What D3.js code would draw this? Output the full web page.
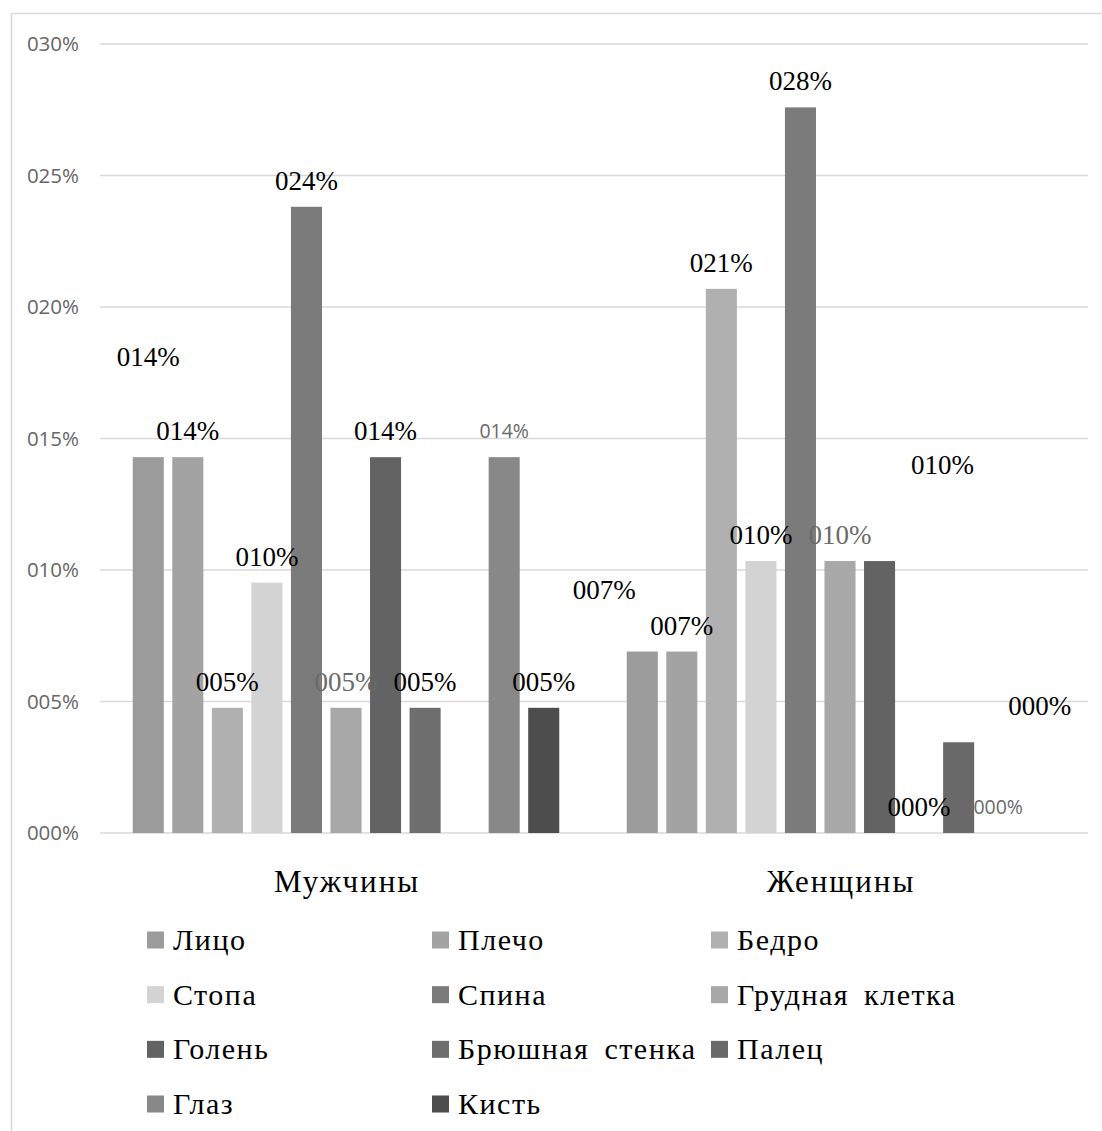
<!DOCTYPE html>
<html>
<head>
<meta charset="utf-8">
<script src="https://cdn.jsdelivr.net/npm/d3@7"></script>
<style>
  html, body { margin: 0; padding: 0; background: #fff; }
  svg { display: block; }
</style>
</head>
<body>
<svg id="chart" width="1102" height="1131"></svg>
<script>
// Groups along the x axis
const groups = ["Мужчины", "Женщины"];

// Body areas (series), in legend order
const series = ["Лицо", "Плечо", "Бедро", "Стопа", "Спина", "Грудная клетка",
                "Голень", "Брюшная стенка", "Палец", "Глаз", "Кисть"];

// Share of injuries, %, per series for each group
const menValues   = [14.29, 14.29, 4.76, 9.52, 23.81, 4.76, 14.29, 4.76, 0, 14.29, 4.76];
const womenValues = [6.90, 6.90, 20.69, 10.34, 27.59, 10.34, 10.34, 0, 3.45, 0, 0];

// Y axis ticks, %
const yTicks = [0, 5, 10, 15, 20, 25, 30];

// Series fill colours
const seriesColors = ["#9b9b9b", "#a3a3a3", "#b0b0b0", "#d3d3d3", "#7b7b7b", "#a8a8a8",
                      "#636363", "#6e6e6e", "#696969", "#888888", "#4d4d4d"];

// Data label styling per series: "serif" black, "grey" serif grey, "sans" small grey, null = none
const labelStyle = ["serif", "serif", "serif", "serif", "serif", "grey",
                    "serif", "serif", null, "sans", "serif"];

// Hand-placed data label shifts (px) for labels moved off their bars
const menLabelShift   = [[0, -74], [0, 0], [0, 0], [0, 0], [0, 0], [0, 0],
                         [0, 0], [0, 0], [0, 0], [0, 0], [0, 0]];
const womenLabelShift = [[-38, -36], [0, 0], [0, 0], [0, 0], [0, 0], [0, 0],
                         [63, -70], [0, 0], [0, 0], [0, 0], [2, -101]];

const groupValues = [menValues, womenValues];
const groupShifts = [menLabelShift, womenLabelShift];

const fmt = v => String(Math.round(v)).padStart(3, "0") + "%";

const svg = d3.select("#chart");
const SERIF = "'Liberation Serif', 'Times New Roman', serif";
const SANS = "'Open Sans', sans-serif";

// outer chart frame
svg.append("rect")
  .attr("x", 11.5).attr("y", 13.5)
  .attr("width", 1200).attr("height", 1200)
  .attr("fill", "none").attr("stroke", "#d9d9d9").attr("stroke-width", 1.5);

const plot = { left: 100, right: 1088, top: 44, bottom: 833 };

const y = d3.scaleLinear().domain([0, 30]).range([plot.bottom, plot.top]);
const x0 = d3.scaleBand().domain(groups).range([plot.left, plot.right]).padding(0);
const x1 = d3.scaleBand().domain(series)
  .range([28.5, x0.bandwidth() - 30.5])
  .paddingInner(0.215).paddingOuter(0.1075);

// gridlines
svg.append("g")
  .selectAll("line")
  .data(yTicks)
  .join("line")
  .attr("x1", plot.left).attr("x2", plot.right)
  .attr("y1", d => y(d)).attr("y2", d => y(d))
  .attr("stroke", "#d9d9d9").attr("stroke-width", 1.5);

// y axis labels
const yAxis = d3.axisLeft(y).tickValues(yTicks).tickFormat(fmt).tickSize(0).tickPadding(0);
const yg = svg.append("g").attr("transform", "translate(79,0)").call(yAxis);
yg.select(".domain").remove();
yg.selectAll("text")
  .attr("font-family", SANS)
  .attr("font-size", 20.5)
  .attr("fill", "#666");

// bars
const gGroups = svg.append("g")
  .selectAll("g")
  .data(groups)
  .join("g")
  .attr("transform", d => `translate(${x0(d)},0)`);

gGroups.selectAll("rect")
  .data((g, gi) => series.map((s, i) => ({ s, i, v: groupValues[gi][i] })))
  .join("rect")
  .attr("x", d => x1(d.s))
  .attr("width", x1.bandwidth())
  .attr("y", d => y(d.v))
  .attr("height", d => y(0) - y(d.v))
  .attr("fill", d => seriesColors[d.i]);

// data labels
gGroups.selectAll("text")
  .data((g, gi) => series.map((s, i) => ({ s, i, v: groupValues[gi][i], sh: groupShifts[gi][i] }))
                         .filter(d => labelStyle[d.i]))
  .join("text")
  .attr("text-anchor", "middle")
  .attr("x", d => x1(d.s) + x1.bandwidth() / 2 + d.sh[0])
  .attr("y", d => y(d.v) - (labelStyle[d.i] === "sans" ? 19 : 17) + d.sh[1])
  .attr("font-family", d => labelStyle[d.i] === "sans" ? SANS : SERIF)
  .attr("font-size", d => labelStyle[d.i] === "sans" ? 19.5 : 27)
  .attr("fill", d => labelStyle[d.i] === "serif" ? "#000" : "#6a6a6a")
  .text(d => fmt(d.v));

// group labels
svg.append("g")
  .selectAll("text")
  .data(groups)
  .join("text")
  .attr("x", d => x0(d) + x0.bandwidth() / 2)
  .attr("y", 892)
  .attr("text-anchor", "middle")
  .attr("font-family", SERIF)
  .attr("font-size", 31)
  .attr("letter-spacing", 2)
  .attr("fill", "#000")
  .text(d => d);

// legend: three columns
const legendCols = [147, 432, 711];
const legendRowY = d3.scaleLinear().domain([0, 3]).range([940, 1104]);
const legend = svg.append("g")
  .selectAll("g")
  .data(series)
  .join("g")
  .attr("transform", (d, i) => `translate(${legendCols[i % 3]},${legendRowY(Math.floor(i / 3))})`);

legend.append("rect")
  .attr("x", 0).attr("y", -8.5)
  .attr("width", 17).attr("height", 17)
  .attr("fill", (d, i) => seriesColors[i]);

legend.append("text")
  .attr("x", 26).attr("y", 10)
  .attr("font-family", SERIF)
  .attr("font-size", 30)
  .attr("letter-spacing", 1.5)
  .attr("word-spacing", 6)
  .attr("fill", "#000")
  .text(d => d);
</script>
</body>
</html>
